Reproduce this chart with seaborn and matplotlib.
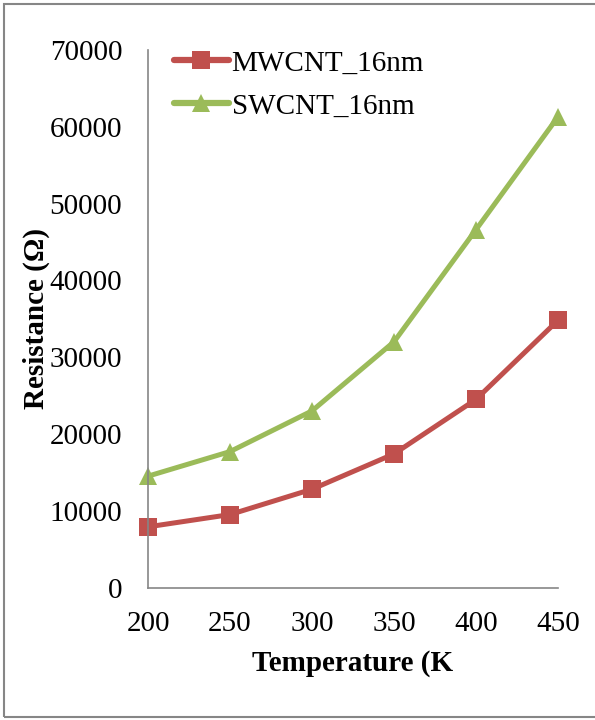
import matplotlib
matplotlib.use("Agg")
import matplotlib.pyplot as plt
from matplotlib.patches import Rectangle
import seaborn as sns
import pandas as pd

# Temperature sweep (K) and measured resistance (ohm) for two CNT interconnects
temperature = [200, 250, 300, 350, 400, 450]
mwcnt_16nm = [7900, 9500, 12800, 17400, 24500, 34800]
swcnt_16nm = [14500, 17700, 23000, 32000, 46600, 61300]
series_names = ["MWCNT_16nm", "SWCNT_16nm"]
y_ticks = [0, 10000, 20000, 30000, 40000, 50000, 60000, 70000]
x_ticks = [200, 250, 300, 350, 400, 450]

df = pd.DataFrame({
    "Temperature": temperature * 2,
    "Resistance": mwcnt_16nm + swcnt_16nm,
    "Sample": [series_names[0]] * len(temperature) + [series_names[1]] * len(temperature),
})

sns.set_theme(style="white")
plt.rcParams["font.family"] = ["Liberation Serif", "DejaVu Serif"]
plt.rcParams["text.color"] = "black"
plt.rcParams["axes.labelcolor"] = "black"

fig = plt.figure(figsize=(5.95, 7.2), dpi=100)
ax = fig.add_axes([148 / 595, 1 - 587.5 / 720, (558 - 148) / 595, (587.5 - 50) / 720])

palette = {"MWCNT_16nm": "#C0504D", "SWCNT_16nm": "#9BBB59"}
markers = {"MWCNT_16nm": "s", "SWCNT_16nm": "^"}
sns.lineplot(data=df, x="Temperature", y="Resistance", hue="Sample", style="Sample",
             palette=palette, markers=markers, dashes=False, linewidth=3.6,
             markersize=13, markeredgewidth=0, ax=ax)
for line in ax.get_lines():
    line.set_clip_on(False)

ax.set_xlim(200, 450)
ax.set_ylim(0, 70000)
ax.set_xticks(x_ticks)
ax.set_yticks(y_ticks)
ax.set_xticklabels([str(v) for v in x_ticks])
ax.set_yticklabels([str(v) for v in y_ticks])

axis_grey = "#868686"
for side in ["top", "right"]:
    ax.spines[side].set_visible(False)
for side in ["left", "bottom"]:
    ax.spines[side].set_color(axis_grey)
    ax.spines[side].set_linewidth(1.2)
ax.tick_params(axis="both", which="major", direction="out", length=5.5, width=1.2,
               color=axis_grey, labelsize=21, labelcolor="black")
ax.tick_params(axis="y", pad=13)
ax.tick_params(axis="x", pad=11.5)
ax.grid(False)
ax.set_facecolor("white")

ax.set_xlabel("Temperature (K", fontsize=21, fontweight="bold", labelpad=9.5, color="black")
ax.set_ylabel("Resistance (Ω)", fontsize=21, fontweight="bold", labelpad=0, color="black")

handles, labels = ax.get_legend_handles_labels()
leg = ax.legend(handles, labels, loc="upper left", bbox_to_anchor=(0.063, 1.0),
                frameon=False, fontsize=21, handlelength=1.88, handletextpad=0.1,
                labelspacing=0.57, borderaxespad=0.0, borderpad=0.0)
for h in leg.legend_handles:
    h.set_linewidth(4.5)

# Outer frame around the whole chart
fig.patches.append(Rectangle((4 / 595, 3 / 720), 600 / 595, (716.5 - 3) / 720,
                             transform=fig.transFigure, fill=False,
                             edgecolor=axis_grey, linewidth=1.5))

fig.savefig("out.png", dpi=100, facecolor="white")
